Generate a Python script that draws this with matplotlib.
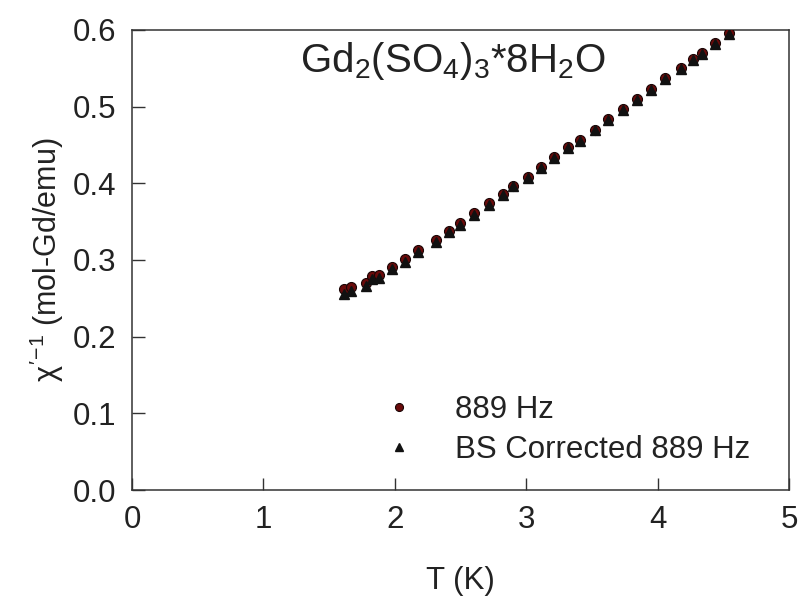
import matplotlib
matplotlib.use("Agg")
import matplotlib.pyplot as plt

plt.rcParams['font.family'] = ['Liberation Sans', 'DejaVu Sans']
plt.rcParams['mathtext.fontset'] = 'custom'
plt.rcParams['mathtext.rm'] = 'Liberation Sans'
plt.rcParams['mathtext.it'] = 'Liberation Sans'
plt.rcParams['mathtext.bf'] = 'Liberation Sans:bold'

# Data
T_889 = [1.61, 1.67, 1.78, 1.83, 1.88, 1.98, 2.08, 2.18, 2.31, 2.41, 2.50, 2.60,
         2.72, 2.82, 2.90, 3.01, 3.11, 3.21, 3.32, 3.41, 3.52, 3.62, 3.74, 3.84,
         3.95, 4.06, 4.18, 4.27, 4.34, 4.44, 4.54]
chi_889 = [0.262, 0.265, 0.270, 0.279, 0.280, 0.291, 0.301, 0.313, 0.326, 0.338,
           0.348, 0.361, 0.374, 0.386, 0.397, 0.408, 0.421, 0.434, 0.447, 0.456,
           0.470, 0.484, 0.497, 0.510, 0.523, 0.537, 0.550, 0.562, 0.570, 0.583,
           0.596]
chi_bs = [0.256, 0.260, 0.266, 0.275, 0.277, 0.288, 0.298, 0.310, 0.323, 0.336,
          0.346, 0.359, 0.372, 0.385, 0.396, 0.407, 0.420, 0.433, 0.446, 0.455,
          0.469, 0.483, 0.496, 0.509, 0.522, 0.536, 0.549, 0.561, 0.569, 0.582,
          0.595]
x_ticks = [0, 1, 2, 3, 4, 5]
y_ticks = [0.0, 0.1, 0.2, 0.3, 0.4, 0.5, 0.6]

fig = plt.figure(figsize=(8.03, 5.99), dpi=100)
ax = fig.add_axes([132/803, 1-490/599, (789-132)/803, (490-30)/599])

ax.plot(T_889, chi_889, linestyle='none', marker='o', markersize=7.2,
        markerfacecolor='#6a0a0a', markeredgecolor='#1a0505', markeredgewidth=0.8,
        label='889 Hz', zorder=3)
ax.plot(T_889, chi_bs, linestyle='none', marker='^', markersize=7.0,
        markerfacecolor='#111111', markeredgecolor='#111111',
        label='BS Corrected 889 Hz', zorder=4)

ax.set_xlim(0, 5)
ax.set_ylim(0, 0.6)
ax.set_xticks(x_ticks)
ax.set_yticks(y_ticks)
ax.set_xticklabels([str(v) for v in x_ticks])
ax.set_yticklabels([f"{v:.1f}" for v in y_ticks])
ax.tick_params(direction='in', length=9, width=1, labelsize=22.5,
               colors='#333333', labelcolor='#222222')
ax.tick_params(axis='x', pad=11)
ax.tick_params(axis='y', pad=11)
for s in ax.spines.values():
    s.set_linewidth(1.1)
    s.set_color('#333333')

ax.set_xlabel('T (K)', fontsize=22.5, labelpad=22, color='#222222')
ax.set_ylabel(r"$\chi'^{-1}$ (mol-Gd/emu)", fontsize=22, labelpad=5, color='#222222')

ax.text(0.255, 0.933, r"Gd$_2$(SO$_4$)$_3$*8H$_2$O", transform=ax.transAxes,
        fontsize=29, color='#222222', ha='left', va='center')

leg = ax.legend(loc='center left', bbox_to_anchor=(0.340, 0.131), frameon=False,
                fontsize=22.5, handletextpad=0.8, labelspacing=0.32,
                markerscale=0.8, borderaxespad=0)
for t in leg.get_texts():
    t.set_color('#222222')

fig.savefig('out.png', dpi=100)
